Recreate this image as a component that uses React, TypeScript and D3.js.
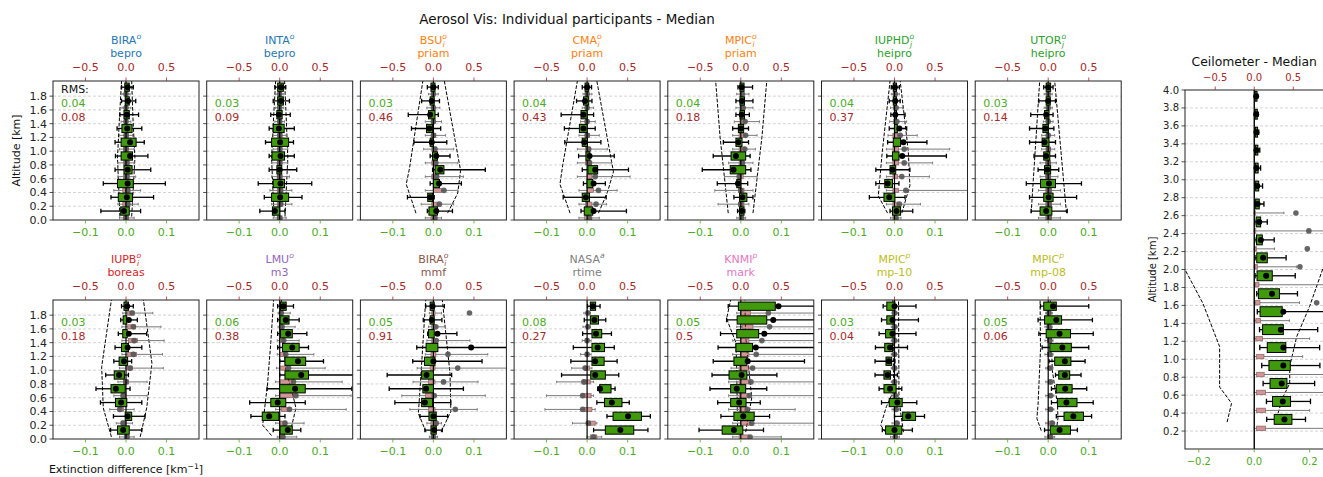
import React from 'react';
import * as d3 from 'd3';

// [q1, q3, whisker low, whisker high, mean]
type Stat = [number, number, number, number, number | null];
// [altitude (km), extinction difference]
type Pt = [number, number];

// ---------- altitude bins ----------
const binCentres = [0.1, 0.3, 0.5, 0.7, 0.9, 1.1, 1.3, 1.5, 1.7, 1.9];
const ceilBinCentres = [0.3, 0.5, 0.7, 0.9, 1.1, 1.3, 1.5, 1.7, 1.9, 2.1, 2.3, 2.5, 2.7, 2.9, 3.1, 3.3, 3.5, 3.7, 3.9];
const ceilProfileCentres = [0.3, 0.5, 0.7, 0.9, 1.1, 1.3, 1.5, 1.7, 1.9, 2.1, 2.3, 2.5, 2.7];
const CROSS_SHIFT = 0.03;
const PROFILE_SHIFT = -0.07;

// ---------- participants ----------
const panelNames = ['BIRA', 'INTA', 'BSU', 'CMA', 'MPIC', 'IUPHD', 'UTOR', 'IUPB', 'LMU', 'BIRA', 'NASA', 'KNMI', 'MPIC', 'MPIC'];
const panelSup = ['o', 'o', 'o', 'o', 'o', 'o', 'o', 'o', 'o', 'o', 'a', 'p', 'p', 'p'];
const panelSub = ['', '', 'i', 'i', 'i', 'j', 'j', 'i', '', 'i', '', '', '', ''];
const panelMethod = ['bepro', 'bepro', 'priam', 'priam', 'priam', 'heipro', 'heipro', 'boreas', 'm3', 'mmf', 'rtime', 'mark', 'mp-10', 'mp-08'];
const panelColour = ['#1f77b4', '#1f77b4', '#ff7f0e', '#ff7f0e', '#ff7f0e', '#2ca02c', '#2ca02c', '#d62728', '#9467bd', '#8c564b', '#7f7f7f', '#e377c2', '#bcbd22', '#bcbd22'];
const rmsCross = ['0.04', '0.03', '0.03', '0.04', '0.04', '0.04', '0.03', '0.03', '0.06', '0.05', '0.08', '0.05', '0.03', '0.05'];
const rmsProfile = ['0.08', '0.09', '0.46', '0.43', '0.18', '0.37', '0.14', '0.18', '0.38', '0.91', '0.27', '0.5', '0.04', '0.06'];

// ---------- cross-section differences (bottom axis, km^-1) ----------
const crossBiraBepro: Stat[] = [
  [-0.013, 0.008, -0.062, 0.036, -0.005], [-0.019, 0.016, -0.037, 0.068, 0.002], [-0.021, 0.018, -0.056, 0.097, 0.004],
  [-0.005, 0.015, -0.027, 0.061, 0.004], [-0.012, 0.016, -0.026, 0.054, 0.010], [-0.012, 0.025, -0.027, 0.045, 0.010],
  [-0.010, 0.015, -0.022, 0.039, 0.003], [-0.005, 0.008, -0.015, 0.031, 0.002], [-0.002, 0.008, -0.011, 0.024, 0.005],
  [-0.003, 0.008, -0.011, 0.018, 0.004],
];
const crossInta: Stat[] = [
  [-0.018, 0.000, -0.049, 0.013, -0.012], [-0.020, 0.022, -0.038, 0.055, 0.001], [-0.016, 0.012, -0.053, 0.079, 0.002],
  [-0.007, 0.005, -0.026, 0.042, 0.000], [-0.019, 0.012, -0.026, 0.036, 0.002], [-0.020, 0.022, -0.035, 0.034, 0.001],
  [-0.016, 0.011, -0.026, 0.036, -0.002], [-0.007, 0.006, -0.022, 0.026, -0.002], [-0.005, 0.009, -0.016, 0.024, 0.003],
  [-0.005, 0.009, -0.012, 0.015, 0.003],
];
const crossBsu: Stat[] = [
  [-0.011, 0.010, -0.015, 0.047, 0.007], [-0.014, -0.002, -0.064, 0.002, -0.008], [0.000, 0.015, -0.008, 0.069, 0.014],
  [0.004, 0.026, -0.002, 0.128, 0.017], [-0.002, 0.010, -0.008, 0.041, 0.007], [-0.008, 0.000, -0.048, 0.033, -0.004],
  [-0.017, -0.002, -0.054, 0.018, -0.010], [-0.012, 0.004, -0.062, 0.012, -0.008], [-0.008, 0.002, -0.029, 0.015, -0.004],
  [-0.006, 0.004, -0.015, 0.012, 0.000],
];
const crossCma: Stat[] = [
  [-0.007, 0.014, -0.015, 0.097, 0.016], [-0.012, 0.006, -0.059, 0.047, -0.003], [0.000, 0.014, -0.009, 0.045, 0.016],
  [0.002, 0.026, -0.012, 0.102, 0.020], [-0.003, 0.007, -0.021, 0.067, 0.006], [-0.012, 0.001, -0.055, 0.034, -0.007],
  [-0.019, 0.000, -0.056, 0.020, -0.009], [-0.015, 0.000, -0.064, 0.016, -0.009], [-0.009, 0.004, -0.026, 0.012, -0.005],
  [-0.005, 0.004, -0.012, 0.011, 0.000],
];
const crossMpicPriam: Stat[] = [
  [-0.003, 0.008, -0.008, 0.010, 0.002], [-0.003, 0.015, -0.017, 0.030, 0.004], [-0.010, 0.000, -0.058, 0.017, -0.007],
  [-0.026, 0.012, -0.095, 0.025, -0.018], [-0.024, 0.012, -0.068, 0.023, -0.012], [-0.012, 0.003, -0.043, 0.019, -0.006],
  [-0.006, 0.007, -0.020, 0.019, 0.000], [-0.002, 0.009, -0.012, 0.021, 0.002], [-0.002, 0.009, -0.012, 0.030, 0.003],
  [-0.002, 0.008, -0.007, 0.029, 0.002],
];
const crossIuphd: Stat[] = [
  [-0.005, 0.015, -0.011, 0.045, 0.005], [-0.026, 0.001, -0.062, 0.026, -0.013], [-0.024, -0.005, -0.046, 0.011, -0.017],
  [-0.011, 0.003, -0.046, 0.038, -0.005], [-0.005, 0.011, -0.019, 0.128, 0.019], [-0.003, 0.015, -0.017, 0.080, 0.022],
  [0.000, 0.007, -0.013, 0.030, 0.012], [0.000, 0.005, -0.009, 0.026, 0.002], [-0.003, 0.005, -0.013, 0.014, 0.002],
  [-0.003, 0.005, -0.008, 0.012, 0.001],
];
const crossUtor: Stat[] = [
  [-0.020, 0.009, -0.042, 0.047, -0.005], [-0.011, 0.012, -0.046, 0.070, 0.001], [-0.019, 0.018, -0.054, 0.082, 0.002],
  [-0.009, 0.006, -0.025, 0.026, -0.002], [-0.011, 0.004, -0.035, 0.018, -0.005], [-0.015, 0.002, -0.046, 0.018, -0.009],
  [-0.013, 0.000, -0.046, 0.014, -0.007], [-0.009, 0.002, -0.043, 0.012, -0.005], [-0.005, 0.005, -0.023, 0.018, 0.000],
  [-0.005, 0.006, -0.011, 0.012, 0.000],
];
const crossIupb: Stat[] = [
  [-0.021, 0.008, -0.038, 0.039, -0.007], [-0.002, 0.014, -0.031, 0.047, 0.004], [-0.026, 0.002, -0.063, 0.039, -0.012],
  [-0.037, -0.002, -0.074, 0.010, -0.025], [-0.029, -0.004, -0.050, 0.006, -0.017], [-0.017, 0.004, -0.030, 0.014, -0.005],
  [-0.011, 0.006, -0.027, 0.039, 0.004], [-0.008, 0.003, -0.019, 0.051, 0.007], [-0.007, 0.002, -0.013, 0.028, 0.007],
  [-0.005, 0.006, -0.011, 0.018, 0.003],
];
const crossLmu: Stat[] = [
  [0.001, 0.031, -0.016, 0.052, 0.020], [-0.043, -0.002, -0.071, 0.013, -0.026], [-0.022, 0.015, -0.074, 0.063, -0.005],
  [0.000, 0.063, -0.031, 0.178, 0.038], [0.013, 0.071, 0.000, 0.200, 0.053], [0.013, 0.064, 0.000, 0.108, 0.045],
  [0.007, 0.048, -0.005, 0.071, 0.031], [0.002, 0.031, -0.005, 0.067, 0.021], [0.001, 0.023, -0.005, 0.048, 0.015],
  [0.002, 0.016, -0.005, 0.034, 0.009],
];
const crossBiraMmf: Stat[] = [
  [-0.006, 0.007, -0.021, 0.022, 0.002], [-0.011, 0.007, -0.033, 0.035, 0.000], [-0.029, -0.002, -0.095, 0.043, -0.021],
  [-0.026, 0.000, -0.109, 0.074, -0.018], [-0.029, 0.000, -0.114, 0.045, -0.017], [-0.022, 0.004, -0.051, 0.120, 0.000],
  [-0.018, 0.011, -0.041, 0.200, 0.093], [-0.012, 0.002, -0.014, 0.058, 0.010], [-0.008, 0.002, -0.025, 0.021, -0.004],
  [-0.008, 0.002, -0.019, 0.027, -0.002],
];
const crossNasa: Stat[] = [
  [0.045, 0.115, 0.016, 0.150, 0.082], [0.064, 0.134, 0.049, 0.156, 0.101], [0.043, 0.086, 0.024, 0.104, 0.061],
  [0.031, 0.059, 0.026, 0.069, 0.032], [0.009, 0.045, -0.063, 0.078, 0.020], [0.012, 0.042, -0.040, 0.074, 0.020],
  [0.012, 0.043, -0.034, 0.067, 0.026], [0.012, 0.036, -0.011, 0.060, 0.022], [0.008, 0.028, -0.007, 0.046, 0.018],
  [0.008, 0.021, 0.001, 0.032, 0.014],
];
const crossKnmi: Stat[] = [
  [-0.046, 0.005, -0.103, 0.056, -0.017], [-0.017, 0.033, -0.049, 0.071, 0.006], [-0.025, 0.013, -0.057, 0.048, -0.004],
  [-0.025, 0.012, -0.076, 0.064, -0.010], [-0.029, 0.015, -0.071, 0.089, 0.002], [-0.017, 0.015, -0.068, 0.157, 0.017],
  [-0.012, 0.029, -0.056, 0.200, 0.037], [-0.010, 0.044, -0.050, 0.200, 0.058], [-0.009, 0.064, -0.035, 0.200, 0.080],
  [-0.006, 0.085, -0.031, 0.200, 0.093],
];
const crossMp10: Stat[] = [
  [-0.022, 0.018, -0.030, 0.044, 0.000], [0.020, 0.052, 0.000, 0.074, 0.034], [-0.013, 0.019, -0.032, 0.055, 0.007],
  [-0.026, 0.004, -0.038, 0.018, -0.011], [-0.026, -0.010, -0.048, 0.007, -0.017], [-0.021, -0.007, -0.048, 0.001, -0.014],
  [-0.024, -0.005, -0.047, 0.032, -0.011], [-0.022, 0.001, -0.038, 0.053, -0.005], [-0.019, -0.001, -0.032, 0.059, -0.005],
  [-0.019, 0.001, -0.028, 0.053, 0.000],
];
const crossMp08: Stat[] = [
  [0.005, 0.055, -0.009, 0.072, 0.028], [0.039, 0.087, 0.020, 0.107, 0.062], [0.023, 0.071, 0.008, 0.111, 0.045],
  [0.020, 0.059, 0.008, 0.095, 0.042], [0.026, 0.053, 0.018, 0.081, 0.041], [0.016, 0.056, 0.002, 0.091, 0.041],
  [0.004, 0.057, -0.015, 0.100, 0.035], [-0.005, 0.055, -0.023, 0.111, 0.028], [-0.009, 0.033, -0.025, 0.109, 0.020],
  [-0.011, 0.020, -0.019, 0.100, 0.012],
];

// ---------- profile differences (top axis) ----------
const profBiraBepro: Stat[] = [
  [-0.03, 0.03, -0.08, 0.10, 0.00], [-0.04, 0.05, -0.10, 0.15, 0.02], [-0.04, 0.05, -0.15, 0.18, 0.02],
  [-0.03, 0.04, -0.10, 0.12, 0.01], [-0.03, 0.04, -0.10, 0.10, 0.01], [-0.03, 0.03, -0.08, 0.10, 0.00],
  [-0.02, 0.03, -0.08, 0.08, 0.00], [-0.02, 0.02, -0.06, 0.06, 0.00], [-0.02, 0.02, -0.05, 0.06, 0.00],
  [-0.02, 0.02, -0.05, 0.05, 0.00],
];
const profInta: Stat[] = [
  [-0.03, 0.03, -0.08, 0.08, 0.00], [-0.03, 0.04, -0.10, 0.15, 0.01], [-0.03, 0.04, -0.12, 0.15, 0.01],
  [-0.03, 0.03, -0.10, 0.12, 0.00], [-0.03, 0.03, -0.10, 0.10, 0.00], [-0.02, 0.03, -0.08, 0.10, 0.00],
  [-0.02, 0.03, -0.08, 0.08, 0.00], [-0.02, 0.02, -0.06, 0.06, 0.00], [-0.02, 0.02, -0.05, 0.05, 0.00],
  [-0.02, 0.02, -0.05, 0.05, 0.00],
];
const profBsu: Stat[] = [
  [-0.03, 0.03, -0.10, 0.10, 0.02], [-0.02, 0.06, -0.15, 0.25, 0.074], [0.00, 0.10, -0.10, 0.30, 0.13],
  [-0.02, 0.06, -0.10, 0.37, 0.04], [-0.02, 0.05, -0.10, 0.30, 0.03], [-0.02, 0.04, -0.12, 0.25, 0.02],
  [-0.02, 0.03, -0.10, 0.15, 0.00], [-0.02, 0.02, -0.10, 0.10, 0.00], [-0.02, 0.02, -0.08, 0.08, 0.00],
  [-0.02, 0.02, -0.06, 0.06, 0.00],
];
const profCma: Stat[] = [
  [-0.03, 0.04, -0.10, 0.15, 0.03], [-0.02, 0.06, -0.10, 0.24, 0.11], [0.00, 0.08, -0.10, 0.37, 0.14],
  [0.00, 0.06, -0.12, 0.53, 0.10], [-0.02, 0.05, -0.12, 0.30, 0.03], [-0.02, 0.04, -0.12, 0.25, 0.02],
  [-0.02, 0.03, -0.10, 0.15, 0.00], [-0.02, 0.02, -0.08, 0.10, 0.00], [-0.02, 0.02, -0.06, 0.08, 0.00],
  [-0.02, 0.02, -0.05, 0.06, 0.00],
];
const profMpicPriam: Stat[] = [
  [-0.02, 0.03, -0.05, 0.06, 0.01], [-0.03, 0.04, -0.28, 0.10, 0.00], [-0.03, 0.04, -0.32, 0.15, 0.00],
  [-0.03, 0.03, -0.20, 0.20, -0.02], [-0.02, 0.04, -0.15, 0.15, 0.02], [-0.02, 0.05, -0.10, 0.18, 0.05],
  [-0.02, 0.05, -0.10, 0.20, 0.06], [-0.01, 0.05, -0.08, 0.23, 0.054], [-0.01, 0.04, -0.06, 0.15, 0.03],
  [-0.01, 0.03, -0.05, 0.10, 0.02],
];
const profIuphd: Stat[] = [
  [-0.02, 0.03, -0.05, 0.08, 0.02], [-0.02, 0.04, -0.10, 0.32, 0.06], [-0.02, 0.05, -0.10, 1.00, 0.14],
  [-0.02, 0.04, -0.10, 0.43, 0.09], [-0.02, 0.05, -0.10, 0.47, 0.12], [-0.02, 0.05, -0.10, 0.68, 0.12],
  [-0.02, 0.04, -0.08, 0.28, 0.07], [-0.01, 0.03, -0.06, 0.15, 0.03], [-0.01, 0.02, -0.05, 0.10, 0.02],
  [-0.01, 0.02, -0.04, 0.06, 0.01],
];
const profUtor: Stat[] = [
  [-0.03, 0.04, -0.12, 0.15, 0.01], [-0.03, 0.04, -0.12, 0.15, 0.01], [-0.03, 0.04, -0.12, 0.15, 0.01],
  [-0.03, 0.03, -0.10, 0.12, 0.00], [-0.03, 0.03, -0.10, 0.10, 0.00], [-0.02, 0.03, -0.08, 0.08, 0.00],
  [-0.02, 0.02, -0.08, 0.08, 0.00], [-0.02, 0.02, -0.06, 0.06, 0.00], [-0.02, 0.02, -0.05, 0.05, 0.00],
  [-0.02, 0.02, -0.05, 0.05, 0.00],
];
const profIupb: Stat[] = [
  [-0.02, 0.04, -0.08, 0.10, 0.01], [-0.06, 0.00, -0.12, 0.08, -0.035], [-0.10, -0.03, -0.20, 0.10, -0.075],
  [-0.06, 0.00, -0.15, 0.26, -0.035], [-0.03, 0.03, -0.10, 0.26, 0.00], [0.00, 0.08, -0.08, 0.46, 0.05],
  [0.02, 0.13, -0.05, 0.45, 0.09], [0.03, 0.14, -0.05, 0.47, 0.10], [0.02, 0.12, -0.05, 0.43, 0.09],
  [0.02, 0.10, -0.04, 0.33, 0.075],
];
const profLmu: Stat[] = [
  [0.00, 0.05, -0.03, 0.21, 0.04], [0.00, 0.08, -0.05, 0.30, 0.065], [0.02, 0.14, -0.05, 0.82, 0.12],
  [0.00, 0.17, -0.05, 0.88, 0.20], [0.00, 0.16, -0.05, 0.77, 0.17], [0.00, 0.10, -0.04, 0.56, 0.11],
  [0.00, 0.08, -0.03, 0.42, 0.075], [0.00, 0.06, -0.03, 0.24, 0.05], [0.00, 0.04, -0.02, 0.19, 0.03],
  [0.00, 0.03, -0.02, 0.13, 0.02],
];
const profBiraMmf: Stat[] = [
  [-0.02, 0.02, -0.05, 0.05, 0.00], [-0.03, 0.04, -0.08, 0.10, 0.035], [-0.06, 0.02, -0.29, 0.54, 0.27],
  [-0.10, 0.00, -0.39, 0.64, 0.01], [-0.06, 0.02, -0.25, 0.55, 0.125], [-0.04, 0.02, -0.20, 0.95, 0.30],
  [-0.03, 0.03, -0.10, 0.67, 0.18], [-0.02, 0.03, -0.08, 0.45, 0.035], [-0.02, 0.02, -0.06, 0.15, 0.03],
  [-0.02, 0.02, -0.05, 0.10, 0.445],
];
const profNasa: Stat[] = [
  [0.04, 0.12, 0.00, 0.18, 0.08], [0.03, 0.10, -0.18, 0.12, 0.015], [-0.04, 0.06, -0.52, 0.10, -0.055],
  [-0.06, 0.05, -0.50, 0.08, -0.055], [-0.05, 0.04, -0.375, 0.08, -0.04], [-0.03, 0.03, -0.19, 0.06, -0.025],
  [-0.02, 0.02, -0.08, 0.05, 0.00], [-0.02, 0.02, -0.06, 0.05, 0.00], [-0.01, 0.02, -0.05, 0.04, 0.01],
  [-0.01, 0.02, -0.04, 0.04, 0.01],
];
const profKnmi: Stat[] = [
  [-0.02, 0.10, -0.10, 0.50, 0.115], [0.00, 0.12, -0.10, 0.95, 0.135], [-0.02, 0.08, -0.15, 0.67, 0.08],
  [-0.02, 0.10, -0.15, 0.95, 0.105], [-0.02, 0.10, -0.15, 0.95, 0.125], [-0.02, 0.10, -0.12, 0.95, 0.145],
  [0.00, 0.10, -0.10, 0.95, 0.19], [0.00, 0.10, -0.10, 0.95, 0.26], [0.02, 0.15, -0.05, 0.95, 0.355],
  [0.00, 0.12, -0.05, 0.95, 0.34],
];
const profMp10: Stat[] = [
  [-0.01, 0.03, -0.05, 0.06, 0.01], [0.00, 0.04, -0.03, 0.06, 0.03], [0.00, 0.03, -0.03, 0.06, 0.02],
  [-0.01, 0.02, -0.04, 0.05, 0.01], [-0.01, 0.02, -0.04, 0.05, 0.00], [-0.01, 0.02, -0.04, 0.05, 0.00],
  [-0.01, 0.02, -0.04, 0.05, 0.00], [-0.01, 0.02, -0.04, 0.04, 0.00], [-0.01, 0.02, -0.04, 0.04, 0.00],
  [-0.01, 0.02, -0.03, 0.04, 0.00],
];
const profMp08: Stat[] = [
  [-0.01, 0.04, -0.04, 0.08, 0.03], [0.00, 0.05, -0.03, 0.08, 0.05], [0.00, 0.04, -0.03, 0.07, 0.03],
  [0.00, 0.04, -0.03, 0.07, 0.03], [0.00, 0.03, -0.03, 0.06, 0.03], [0.00, 0.03, -0.03, 0.06, 0.02],
  [-0.01, 0.03, -0.04, 0.06, 0.02], [-0.01, 0.03, -0.04, 0.06, 0.02], [-0.01, 0.02, -0.04, 0.05, 0.01],
  [-0.01, 0.02, -0.03, 0.05, 0.01],
];

// ---------- dashed envelopes (bottom axis) ----------
const envBiraBepro: Pt[][] = [[[0.05, -0.015], [0.9, -0.021], [1.5, -0.016], [2.02, -0.011]], [[0.05, 0.014], [0.9, 0.022], [1.5, 0.017], [2.02, 0.014]]];
const envInta: Pt[][] = [[[0.05, -0.014], [0.9, -0.02], [1.5, -0.015], [2.02, -0.01]], [[0.05, 0.013], [0.9, 0.02], [1.5, 0.016], [2.02, 0.012]]];
const envBsu: Pt[][] = [[[0.1, -0.043], [0.52, -0.067], [0.75, -0.059], [2.02, -0.026]], [[0.1, 0.035], [0.39, 0.06], [0.72, 0.067], [2.02, 0.027]]];
const envCma: Pt[][] = [[[0.1, -0.042], [0.52, -0.067], [0.8, -0.06], [2.02, -0.024]], [[0.1, 0.028], [0.4, 0.05], [0.7, 0.065], [2.02, 0.024]]];
const envMpicPriam: Pt[][] = [[[0.1, -0.031], [0.6, -0.04], [1.2, -0.051], [2.02, -0.062]], [[0.1, 0.03], [0.6, 0.04], [1.2, 0.052], [2.02, 0.064]]];
const envIuphd: Pt[][] = [[[0.1, -0.017], [0.35, -0.04], [1.0, -0.03], [2.02, -0.011]], [[0.1, 0.018], [0.5, 0.038], [1.0, 0.034], [2.02, 0.014]]];
const envUtor: Pt[][] = [[[0.1, -0.042], [2.02, -0.021]], [[0.1, 0.045], [2.02, 0.016]]];
const envIupb: Pt[][] = [[[0.03, -0.036], [0.45, -0.056], [1.05, -0.06], [2.02, -0.036]], [[0.03, 0.035], [0.45, 0.051], [1.1, 0.064], [2.02, 0.043]]];
const envLmu: Pt[][] = [[[0.05, -0.02], [0.2, -0.042], [0.8, -0.03], [1.4, -0.022], [2.02, -0.015]], [[0.05, 0.01], [0.2, 0.03], [0.45, 0.04], [0.7, 0.03], [1.0, 0.015], [1.5, 0.008], [2.02, 0.004]]];
const envBiraMmf: Pt[][] = [[[0.1, -0.018], [0.37, -0.037], [1.0, -0.03], [2.02, -0.019]], [[0.1, 0.019], [0.4, 0.043], [0.95, 0.041], [2.02, 0.022]]];
const envNasa: Pt[][] = [];
const envKnmi: Pt[][] = [[[0.1, -0.008], [1.0, -0.01], [1.4, -0.012], [1.75, -0.035], [2.02, -0.025]], [[0.1, 0.012], [0.6, 0.027], [1.0, 0.02], [1.5, 0.012], [2.02, 0.01]]];
const envMp10: Pt[][] = [[[0.1, -0.022], [0.2, -0.034], [0.47, -0.02], [0.7, -0.002], [2.02, -0.004]], [[0.1, 0.022], [0.35, 0.016], [0.6, 0.011], [2.02, 0.01]]];
const envMp08: Pt[][] = [[[0.12, -0.017], [0.3, -0.028], [0.5, -0.025], [1.3, -0.019], [2.02, -0.02]], [[0.12, 0.02], [0.3, 0.024], [0.5, 0.023], [1.0, 0.01], [2.02, 0.005]]];

const crossSets = [crossBiraBepro, crossInta, crossBsu, crossCma, crossMpicPriam, crossIuphd, crossUtor, crossIupb, crossLmu, crossBiraMmf, crossNasa, crossKnmi, crossMp10, crossMp08];
const profileSets = [profBiraBepro, profInta, profBsu, profCma, profMpicPriam, profIuphd, profUtor, profIupb, profLmu, profBiraMmf, profNasa, profKnmi, profMp10, profMp08];
const envelopeSets = [envBiraBepro, envInta, envBsu, envCma, envMpicPriam, envIuphd, envUtor, envIupb, envLmu, envBiraMmf, envNasa, envKnmi, envMp10, envMp08];

// ---------- ceilometer median ----------
const ceilCross: Stat[] = [
  [0.072, 0.136, 0.045, 0.185, 0.109], [0.066, 0.131, 0.044, 0.203, 0.103], [0.057, 0.118, 0.032, 0.218, 0.099],
  [0.053, 0.130, 0.027, 0.237, 0.105], [0.047, 0.114, 0.020, 0.236, 0.105], [0.030, 0.105, 0.019, 0.229, 0.096],
  [0.021, 0.101, 0.011, 0.270, 0.105], [0.015, 0.091, 0.009, 0.156, 0.064], [0.010, 0.065, 0.003, 0.148, 0.043],
  [0.009, 0.047, 0.003, 0.115, 0.032], [0.008, 0.029, 0.002, 0.072, 0.024], [0.007, 0.023, 0.002, 0.047, 0.018],
  [0.005, 0.018, 0.002, 0.035, 0.012], [0.005, 0.016, 0.003, 0.030, 0.011], [0.004, 0.014, 0.002, 0.023, 0.008],
  [0.004, 0.013, 0.002, 0.020, 0.008], [0.004, 0.012, 0.002, 0.016, 0.008], [0.003, 0.011, 0.002, 0.014, 0.007],
  [0.003, 0.010, 0.002, 0.012, 0.007],
];
const ceilProfile: Stat[] = [
  [0.03, 0.145, 0.0, 0.95, null], [0.03, 0.145, 0.0, 0.71, null], [0.03, 0.145, 0.0, 0.95, null],
  [0.03, 0.128, 0.0, 0.95, null], [0.03, 0.124, 0.0, 0.62, null], [0.02, 0.107, 0.0, 0.71, null],
  [0.02, 0.080, 0.0, 0.45, null], [0.017, 0.073, 0.0, 0.58, 0.80], [0.015, 0.060, 0.0, 0.95, null],
  [0.010, 0.040, 0.0, 0.54, 0.585], [0.008, 0.030, 0.0, 0.26, 0.68], [0.005, 0.020, 0.0, 0.95, 0.70],
  [0.005, 0.015, 0.0, 0.38, 0.534],
];
const ceilEnvelope: Pt[][] = [
  [[0.30, -0.098], [0.51, -0.082], [0.69, -0.125], [1.14, -0.125], [1.62, -0.185], [2.0, -0.25], [2.05, -0.27]],
  [[0.40, 0.086], [0.58, 0.104], [0.73, 0.128], [0.92, 0.128], [1.25, 0.153], [1.59, 0.2], [2.03, 0.25], [2.08, 0.27]],
];

// ---------- ticks ----------
const crossTicks = [-0.1, 0.0, 0.1];
const profileTicks = [-0.5, 0.0, 0.5];
const altTicks = [0.0, 0.2, 0.4, 0.6, 0.8, 1.0, 1.2, 1.4, 1.6, 1.8];
const ceilCrossTicks = [-0.2, 0.0, 0.2];
const ceilAltTicks = [0.2, 0.4, 0.6, 0.8, 1.0, 1.2, 1.4, 1.6, 1.8, 2.0, 2.2, 2.4, 2.6, 2.8, 3.0, 3.2, 3.4, 3.6, 3.8, 4.0];

// ---------- styling ----------
const FONT = "'DejaVu Sans', 'Liberation Sans', sans-serif";
const GREEN_TXT = '#4caa1e';
const GREEN_BOX = '#3f9b0b';
const RED = '#a52a2a';
const SPINE = '#222';

const fmt = (v: number) => d3.format('.1f')(v).replace('-', '\u2212');

type Lin = d3.ScaleLinear<number, number>;

function Boxes({ stats, alts, shift, x, y, boxH, cross }: {
  stats: Stat[]; alts: number[]; shift: number; x: Lin; y: Lin; boxH: number; cross: boolean;
}) {
  const hh = Math.abs(y(0) - y(boxH)) / 2;
  const cap = cross ? hh * 0.55 : hh * 0.6;
  const wc = cross ? '#000' : '#7a7a7a';
  const ww = cross ? 1.3 : 1;
  return (
    <g>
      {stats.map((s, i) => {
        const [q1, q3, lo, hi, mean] = s;
        const yc = y(alts[i] + shift);
        return (
          <g key={i}>
            <line x1={x(lo)} x2={x(q1)} y1={yc} y2={yc} stroke={wc} strokeWidth={ww} />
            <line x1={x(q3)} x2={x(hi)} y1={yc} y2={yc} stroke={wc} strokeWidth={ww} />
            <line x1={x(lo)} x2={x(lo)} y1={yc - cap} y2={yc + cap} stroke={wc} strokeWidth={ww} />
            <line x1={x(hi)} x2={x(hi)} y1={yc - cap} y2={yc + cap} stroke={wc} strokeWidth={ww} />
            {cross ? (
              <rect x={x(q1)} y={yc - hh} width={Math.max(0.5, x(q3) - x(q1))} height={2 * hh}
                fill={GREEN_BOX} stroke="#000" strokeWidth={1} />
            ) : (
              <rect x={x(q1)} y={yc - hh} width={Math.max(0.5, x(q3) - x(q1))} height={2 * hh}
                fill={RED} fillOpacity={0.5} stroke="#6e4f4f" strokeOpacity={0.7} strokeWidth={0.8} />
            )}
            {mean != null && (
              <circle cx={x(mean)} cy={yc} r={cross ? 3 : 2.8}
                fill={cross ? '#000' : '#555'} fillOpacity={cross ? 1 : 0.9} />
            )}
          </g>
        );
      })}
    </g>
  );
}

function Envelope({ lines, x, y }: { lines: Pt[][]; x: Lin; y: Lin }) {
  const gen = d3.line<Pt>().x(d => x(d[1])).y(d => y(d[0]));
  return (
    <g>
      {lines.map((l, i) => (
        <path key={i} d={gen(l) || ''} fill="none" stroke="#000" strokeWidth={1} strokeDasharray="3.7,1.6" />
      ))}
    </g>
  );
}

function TitleText({ cx, yb, name, sup, sub, colour }: {
  cx: number; yb: number; name: string; sup: string; sub: string; colour: string;
}) {
  return (
    <text x={cx} y={yb} textAnchor="middle" fill={colour} fontSize={11}>
      {name}
      <tspan fontSize={7.7} fontStyle="italic" dy={-4.6}>{sup}</tspan>
      {sub ? <tspan fontSize={7.7} fontStyle="italic" dx={-4.2} dy={7.8}>{sub}</tspan> : null}
    </text>
  );
}

const PANEL_W = 146;
const PANEL_H = 139;
const COL_STEP = 153.7;
const PANEL_LEFT0 = 53;
const ROW_TOPS = [81, 300];

function SmallPanel({ idx }: { idx: number }) {
  const col = idx % 7;
  const row = Math.floor(idx / 7);
  const left = PANEL_LEFT0 + COL_STEP * col;
  const top = ROW_TOPS[row];
  const right = left + PANEL_W;
  const bottom = top + PANEL_H;
  const x = d3.scaleLinear().domain([-0.18, 0.18]).range([left, right]);
  const xt = d3.scaleLinear().domain([-0.9, 0.9]).range([left, right]);
  const y = d3.scaleLinear().domain([0, 2.02]).range([bottom, top]);
  const clipId = `clip-p${idx}`;
  const cx = (left + right) / 2;
  return (
    <g>
      <defs>
        <clipPath id={clipId}><rect x={left} y={top} width={PANEL_W} height={PANEL_H} /></clipPath>
      </defs>
      {/* grid */}
      {altTicks.filter(t => t > 0).map(t => (
        <line key={t} x1={left} x2={right} y1={y(t)} y2={y(t)} stroke="#b0b0b0" strokeOpacity={0.7}
          strokeWidth={0.8} strokeDasharray="3,2" />
      ))}
      <g clipPath={`url(#${clipId})`}>
        <Envelope lines={envelopeSets[idx]} x={x} y={y} />
        <Boxes stats={profileSets[idx]} alts={binCentres} shift={PROFILE_SHIFT} x={xt} y={y} boxH={0.06} cross={false} />
        <line x1={x(0)} x2={x(0)} y1={top} y2={bottom} stroke="#000" strokeWidth={1.2} />
        <Boxes stats={crossSets[idx]} alts={binCentres} shift={CROSS_SHIFT} x={x} y={y} boxH={0.12} cross={true} />
      </g>
      {/* frame */}
      <rect x={left} y={top} width={PANEL_W} height={PANEL_H} fill="none" stroke={SPINE} strokeWidth={1} />
      {/* y ticks */}
      {altTicks.map(t => (
        <g key={t}>
          <line x1={left - 3.5} x2={left} y1={y(t)} y2={y(t)} stroke={SPINE} strokeWidth={0.8} />
          {col === 0 && (
            <text x={left - 6} y={y(t)} dy="0.35em" textAnchor="end" fontSize={11} fill="#222">{fmt(t)}</text>
          )}
        </g>
      ))}
      {/* bottom axis */}
      {crossTicks.map(t => (
        <g key={t}>
          <line x1={x(t)} x2={x(t)} y1={bottom} y2={bottom + 3.5} stroke={GREEN_TXT} strokeWidth={0.8} />
          <text x={x(t)} y={bottom + 16} textAnchor="middle" fontSize={11} fill={GREEN_TXT}>{fmt(t)}</text>
        </g>
      ))}
      {/* top axis */}
      {profileTicks.map(t => (
        <g key={t}>
          <line x1={xt(t)} x2={xt(t)} y1={top} y2={top - 3.5} stroke={RED} strokeWidth={0.8} />
          <text x={xt(t)} y={top - 10} textAnchor="middle" fontSize={11} fill={RED}>{fmt(t)}</text>
        </g>
      ))}
      <TitleText cx={cx} yb={top - 37} name={panelNames[idx]} sup={panelSup[idx]} sub={panelSub[idx]} colour={panelColour[idx]} />
      <text x={cx} y={top - 24} textAnchor="middle" fontSize={11} fill={panelColour[idx]}>{panelMethod[idx]}</text>
      {/* RMS */}
      {idx === 0 && <text x={left + 8} y={top + 12} fontSize={11} fill="#111">RMS:</text>}
      <text x={left + 8} y={top + 26} fontSize={11} fill={GREEN_TXT}>{rmsCross[idx]}</text>
      <text x={left + 8} y={top + 40} fontSize={11} fill={RED}>{rmsProfile[idx]}</text>
    </g>
  );
}

function CeilPanel() {
  const left = 1185;
  const right = 1323.5;
  const top = 90;
  const bottom = 449;
  const x = d3.scaleLinear().domain([-0.25, 0.25]).range([left, right]);
  const xt = d3.scaleLinear().domain([-0.8875, 0.8875]).range([left, right]);
  const y = d3.scaleLinear().domain([0, 4.0]).range([bottom, top]);
  const cx = (left + right) / 2;
  return (
    <g>
      <defs>
        <clipPath id="clip-ceil"><rect x={left} y={top} width={right - left} height={bottom - top} /></clipPath>
      </defs>
      {ceilAltTicks.filter(t => t < 4).map(t => (
        <line key={t} x1={left} x2={right} y1={y(t)} y2={y(t)} stroke="#b0b0b0" strokeOpacity={0.7}
          strokeWidth={0.8} strokeDasharray="3,2" />
      ))}
      <g clipPath="url(#clip-ceil)">
        <Envelope lines={ceilEnvelope} x={x} y={y} />
        <Boxes stats={ceilProfile} alts={ceilProfileCentres} shift={PROFILE_SHIFT} x={xt} y={y} boxH={0.05} cross={false} />
        <line x1={x(0)} x2={x(0)} y1={top} y2={bottom} stroke="#000" strokeWidth={1.4} />
        <Boxes stats={ceilCross} alts={ceilBinCentres} shift={CROSS_SHIFT} x={x} y={y} boxH={0.11} cross={true} />
      </g>
      <rect x={left} y={top} width={right - left} height={bottom - top} fill="none" stroke={SPINE} strokeWidth={1} />
      {ceilAltTicks.map(t => (
        <g key={t}>
          <line x1={left - 3.5} x2={left} y1={y(t)} y2={y(t)} stroke={SPINE} strokeWidth={0.8} />
          <text x={left - 6} y={y(t)} dy="0.35em" textAnchor="end" fontSize={10} fill="#222">{fmt(t)}</text>
        </g>
      ))}
      {ceilCrossTicks.map(t => (
        <g key={t}>
          <line x1={x(t)} x2={x(t)} y1={bottom} y2={bottom + 3.5} stroke={GREEN_TXT} strokeWidth={0.8} />
          <text x={x(t)} y={bottom + 15.5} textAnchor="middle" fontSize={10} fill={GREEN_TXT}>{fmt(t)}</text>
        </g>
      ))}
      {profileTicks.map(t => (
        <g key={t}>
          <line x1={xt(t)} x2={xt(t)} y1={top} y2={top - 3.5} stroke={RED} strokeWidth={0.8} />
          <text x={xt(t)} y={top - 9.5} textAnchor="middle" fontSize={10} fill={RED}>{fmt(t)}</text>
        </g>
      ))}
      <text x={cx} y={66} textAnchor="middle" fontSize={12.4} fill="#111">Ceilometer - Median</text>
      <text transform={`translate(1155.5,${(top + bottom) / 2}) rotate(-90)`} textAnchor="middle" fontSize={10} fill="#111">Altitude [km]</text>
    </g>
  );
}

export default function App() {
  const panels = d3.range(14);
  return (
    <svg width={1323} height={477} style={{ position: 'absolute', left: 0, top: 0, background: '#fff' }}
      fontFamily={FONT}>
      <rect x={0} y={0} width={1323} height={477} fill="#fff" />
      <text x={567} y={24} textAnchor="middle" fontSize={13.5} fill="#111">Aerosol Vis: Individual participants - Median</text>
      {panels.map(i => <SmallPanel key={i} idx={i} />)}
      <text transform={`translate(20,${ROW_TOPS[0] + PANEL_H / 2}) rotate(-90)`} textAnchor="middle" fontSize={11} fill="#111">Altitude [km]</text>
      <text x={PANEL_LEFT0 + PANEL_W / 2} y={473} textAnchor="middle" fontSize={11} fill="#111">
        Extinction difference [km<tspan fontSize={7.7} dy={-4.5}>{'\u22121'}</tspan><tspan dy={4.5}>]</tspan>
      </text>
      <CeilPanel />
    </svg>
  );
}
